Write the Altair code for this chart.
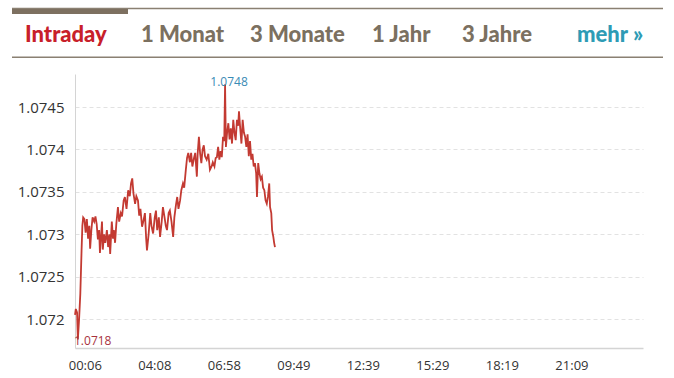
import json
import altair as alt
import pandas as pd

# --- data (minutes index from chart start, EUR price) ---
t_vals = [0, 2, 5, 7, 10, 13, 16, 18, 20, 23, 26, 29, 32, 35, 37, 40, 43, 47, 50, 53,
          56, 59, 61, 64, 66, 68, 71, 74, 78, 81, 84, 86, 90, 93, 95, 98, 101, 105, 108, 112,
          115, 119, 122, 126, 130, 134, 137, 140, 143, 147, 150, 154, 157, 160, 164, 167, 171, 174, 176, 180,
          184, 187, 191, 195, 198, 201, 205, 208, 212, 215, 219, 222, 225, 229, 232, 236, 240, 243, 247, 250,
          253, 257, 260, 264, 267, 271, 274, 277, 281, 284, 287, 291, 294, 298, 300, 303, 306, 309, 312, 315,
          318, 322, 326, 330, 334, 337, 341, 344, 347, 350, 353, 356, 359, 362, 365, 367, 369, 372, 375, 378,
          381, 384, 387, 390, 393, 396, 399, 401, 404, 407, 410, 413, 416, 419, 422, 425, 428, 431, 434, 437,
          440, 443, 445, 448, 451, 454, 457, 460, 463, 466, 469, 472, 475, 477, 480, 482, 485, 487, 489]
prices = [1.07205, 1.07212, 1.07208, 1.07176, 1.07200, 1.07230, 1.07280, 1.07310, 1.07320, 1.07318,
          1.07302, 1.07318, 1.07295, 1.07310, 1.07283, 1.07305, 1.07320, 1.07315, 1.07321, 1.07312,
          1.07294, 1.07305, 1.07278, 1.07300, 1.07315, 1.07282, 1.07300, 1.07290, 1.07305, 1.07285,
          1.07300, 1.07277, 1.07315, 1.07295, 1.07305, 1.07290, 1.07312, 1.07332, 1.07315, 1.07325,
          1.07321, 1.07340, 1.07344, 1.07330, 1.07352, 1.07345, 1.07360, 1.07366, 1.07348, 1.07336,
          1.07345, 1.07340, 1.07322, 1.07330, 1.07309, 1.07315, 1.07325, 1.07295, 1.07281, 1.07300,
          1.07325, 1.07310, 1.07301, 1.07320, 1.07328, 1.07305, 1.07320, 1.07297, 1.07315, 1.07332,
          1.07320, 1.07310, 1.07305, 1.07325, 1.07328, 1.07315, 1.07297, 1.07320, 1.07335, 1.07344,
          1.07330, 1.07340, 1.07352, 1.07360, 1.07355, 1.07376, 1.07390, 1.07396, 1.07385, 1.07396,
          1.07380, 1.07390, 1.07396, 1.07368, 1.07395, 1.07415, 1.07395, 1.07384, 1.07400, 1.07405,
          1.07392, 1.07388, 1.07395, 1.07376, 1.07380, 1.07385, 1.07380, 1.07390, 1.07391, 1.07403,
          1.07388, 1.07398, 1.07391, 1.07415, 1.07410, 1.07477, 1.07403, 1.07420, 1.07431, 1.07412,
          1.07425, 1.07407, 1.07435, 1.07420, 1.07411, 1.07435, 1.07428, 1.07445, 1.07425, 1.07407,
          1.07435, 1.07420, 1.07415, 1.07403, 1.07418, 1.07392, 1.07410, 1.07388, 1.07395, 1.07380,
          1.07384, 1.07372, 1.07344, 1.07384, 1.07372, 1.07365, 1.07368, 1.07355, 1.07352, 1.07340,
          1.07336, 1.07345, 1.07360, 1.07332, 1.07325, 1.07305, 1.07297, 1.07290, 1.07285]

x_tick_pos = [24, 194, 364, 534, 704, 874, 1044, 1214]
x_tick_labels = ["00:06", "04:08", "06:58", "09:49", "12:39", "15:29", "18:19", "21:09"]
y_ticks = [1.072, 1.0725, 1.073, 1.0735, 1.074, 1.0745]

ann_t = [367, 0]
ann_price = [1.07477, 1.07176]
ann_text = ["1.0748", "1.0718"]

tabs = ["Intraday", "1 Monat", "3 Monate", "1 Jahr", "3 Jahre", "mehr »"]

# --- build ---
df = pd.DataFrame({"t": t_vals, "price": prices})
X_DOMAIN = [0, 1389]
Y_DOMAIN = [1.07166, 1.07489]

label_expr = "{}[indexof({}, datum.value)]".format(json.dumps(x_tick_labels), json.dumps(x_tick_pos))

x_enc = alt.X("t:Q", scale=alt.Scale(domain=X_DOMAIN, nice=False, zero=False),
              axis=alt.Axis(values=x_tick_pos, labelExpr=label_expr, grid=False, ticks=False,
                            domainColor="#d4d4d4", domainWidth=1.5, labelColor="#333333",
                            labelFont="Open Sans", labelFontSize=13, labelPadding=11, title=None,
                            labelFlush=False, labelOverlap=False))
y_enc = alt.Y("price:Q", scale=alt.Scale(domain=Y_DOMAIN, nice=False, zero=False),
              axis=alt.Axis(values=y_ticks, format=".4~f", grid=True, gridColor="#e2e2e2",
                            gridDash=[4, 3], ticks=False, domainColor="#d4d4d4", domainWidth=1,
                            labelColor="#333333", labelFont="Open Sans", labelFontSize=15,
                            labelPadding=11, title=None))

line = alt.Chart(df).mark_line(color="#c33a32", strokeWidth=1.8, interpolate="linear").encode(
    x=x_enc, y=y_enc)

ann_df = pd.DataFrame({"t": ann_t, "price": ann_price, "label": ann_text})
ann_max = alt.Chart(ann_df.iloc[[0]]).mark_text(
    color="#3a8bb5", font="Open Sans", fontSize=12, align="center", baseline="bottom", dx=4, dy=5
).encode(x="t:Q", y="price:Q", text="label:N")
ann_min = alt.Chart(ann_df.iloc[[1]]).mark_text(
    color="#a8323e", font="Open Sans", fontSize=12, align="left", baseline="middle", dx=-1, dy=1
).encode(x="t:Q", y="price:Q", text="label:N")

# header (tabs) above the plot area
hdr_x = [-50, 66, 175, 297, 387, 502]
hdr_col = ["#c8202a", "#7b7060", "#7b7060", "#7b7060", "#7b7060", "#2e9bb5"]
hdr_df = pd.DataFrame({"label": tabs, "px": hdr_x, "col": hdr_col})
header = alt.Chart(hdr_df).mark_text(
    font="Lato", fontSize=22, fontWeight=900, align="left", baseline="alphabetic"
).encode(
    x=alt.X("px:Q", scale=None), y=alt.value(-32), text="label:N",
    color=alt.Color("col:N", scale=None))

rule_top = alt.Chart(pd.DataFrame({"a": [0]})).mark_rule(color="#8a8072", strokeWidth=1.5).encode(
    x=alt.value(-63), x2=alt.value(588), y=alt.value(-65.5))
rule_bar = alt.Chart(pd.DataFrame({"a": [0]})).mark_rule(color="#7d7060", strokeWidth=5).encode(
    x=alt.value(-63), x2=alt.value(53), y=alt.value(-62.5))
rule_bot = alt.Chart(pd.DataFrame({"a": [0]})).mark_rule(color="#8a8072", strokeWidth=1.5).encode(
    x=alt.value(-63), x2=alt.value(588), y=alt.value(-16.7))

chart = alt.layer(line, ann_max, ann_min, header, rule_top, rule_bar, rule_bot).properties(
    width=568, height=274,
    autosize=alt.AutoSizeParams(type="none"),
    padding={"left": 75, "top": 74, "right": 31, "bottom": 30},
    background="white",
).configure_view(stroke=None)

chart.save("out.html", embed_options={"renderer": "svg", "actions": False})
